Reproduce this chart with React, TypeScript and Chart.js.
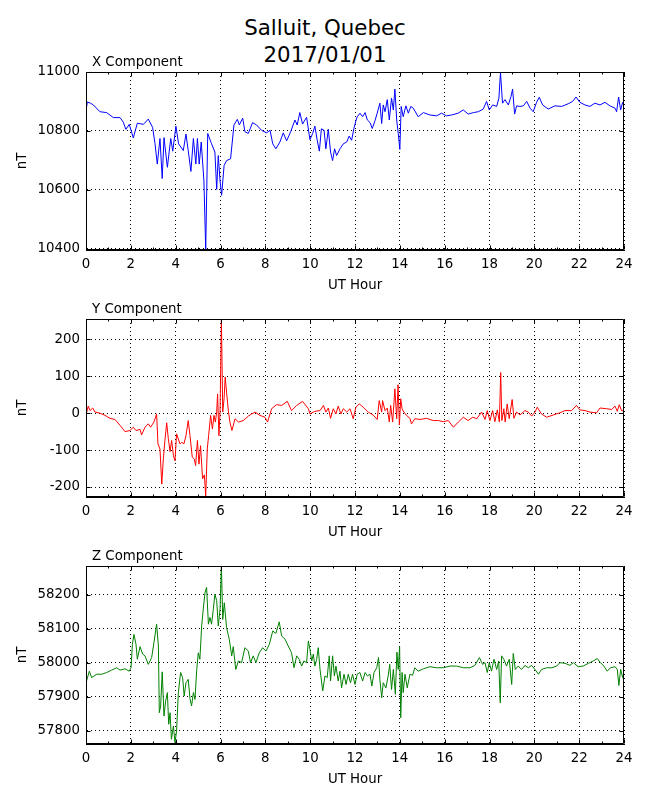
import React, { useEffect, useRef } from "react";
import { Chart, registerables } from "chart.js";

Chart.register(...registerables);

// ---------- data ----------
const hourTicks = [0, 2, 4, 6, 8, 10, 12, 14, 16, 18, 20, 22, 24];
const minorHourTicks = [1, 3, 5, 7, 9, 11, 13, 15, 17, 19, 21, 23];

const xCompTicks = [10400, 10600, 10800, 11000];
const yCompTicks = [-200, -100, 0, 100, 200];
const zCompTicks = [57800, 57900, 58000, 58100, 58200];

const xCompRange = [10395, 11000];
const yCompRange = [-227, 255];
const zCompRange = [57761, 58284];

const xHours = [
  0, 0.06, 0.2, 0.33, 0.62, 0.92, 1.22, 1.52, 1.66, 1.78,
  1.93, 2.11, 2.29, 2.56, 2.78, 2.97, 3.08, 3.18, 3.3, 3.4,
  3.48, 3.63, 3.78, 3.87, 4.01, 4.13, 4.34, 4.46, 4.56, 4.68,
  4.79, 4.9, 4.97, 5.05, 5.14, 5.26, 5.34, 5.43, 5.6, 5.75,
  5.83, 5.9, 5.98, 6.05, 6.16, 6.27, 6.45, 6.6, 6.75, 6.84,
  6.99, 7.09, 7.24, 7.43, 7.61, 7.83, 8.06, 8.21, 8.33, 8.47,
  8.65, 8.8, 8.95, 9.13, 9.32, 9.42, 9.54, 9.66, 9.84, 9.99,
  10.11, 10.21, 10.32, 10.41, 10.5, 10.62, 10.7, 10.81, 10.91, 11.0,
  11.09, 11.18, 11.33, 11.48, 11.63, 11.74, 11.85, 11.95, 12.04, 12.1,
  12.22, 12.34, 12.45, 12.55, 12.67, 12.77, 12.89, 12.99, 13.11, 13.19,
  13.26, 13.34, 13.44, 13.53, 13.63, 13.71, 13.78, 13.86, 13.93, 14.0,
  14.06, 14.15, 14.27, 14.38, 14.49, 14.6, 14.82, 15.05, 15.34, 15.64,
  15.86, 16.08, 16.31, 16.6, 16.83, 17.05, 17.28, 17.5, 17.72, 17.87,
  17.99, 18.14, 18.32, 18.42, 18.49, 18.58, 18.69, 18.84, 18.96, 19.03,
  19.12, 19.21, 19.36, 19.51, 19.66, 19.81, 19.95, 20.1, 20.22, 20.37,
  20.62, 20.92, 21.22, 21.51, 21.71, 21.86, 22.03, 22.26, 22.48, 22.7,
  22.93, 23.15, 23.37, 23.6, 23.67, 23.76, 23.85, 23.94, 24,
];
const xValues = [
  10868, 10898, 10894, 10888, 10865, 10862, 10845, 10845, 10830, 10805,
  10822, 10776, 10826, 10822, 10840, 10812, 10756, 10687, 10774, 10638,
  10777, 10676, 10774, 10731, 10816, 10756, 10733, 10789, 10733, 10662,
  10774, 10687, 10774, 10687, 10762, 10630, 10397, 10791, 10756, 10728,
  10601, 10716, 10630, 10581, 10682, 10699, 10705, 10820, 10839, 10820,
  10843, 10797, 10791, 10828, 10820, 10802, 10793, 10802, 10756, 10739,
  10762, 10793, 10766, 10797, 10837, 10820, 10862, 10823, 10846, 10770,
  10791, 10816, 10766, 10731, 10807, 10802, 10739, 10805, 10728, 10699,
  10739, 10716, 10739, 10756, 10762, 10782, 10768, 10808, 10834, 10848,
  10860, 10848, 10862, 10837, 10828, 10808, 10834, 10860, 10894, 10825,
  10888, 10865, 10906, 10837, 10911, 10871, 10942, 10837, 10791, 10737,
  10883, 10848, 10885, 10860, 10883, 10877, 10848, 10862, 10854, 10851,
  10860, 10851, 10854, 10860, 10871, 10857, 10862, 10865, 10874, 10900,
  10871, 10888, 10883, 10911, 10999, 10894, 10906, 10888, 10917, 10942,
  10857, 10885, 10883, 10885, 10900, 10877, 10865, 10897, 10914, 10888,
  10874, 10885, 10883, 10892, 10900, 10915, 10897, 10888, 10883, 10894,
  10888, 10897, 10885, 10877, 10865, 10915, 10871, 10897, 10888,
];

const yHours = [
  0, 0.1, 0.18, 0.3, 0.4, 0.62, 0.85, 1.07, 1.29, 1.52,
  1.74, 1.96, 2.11, 2.23, 2.41, 2.48, 2.63, 2.78, 2.88, 3.03,
  3.15, 3.21, 3.3, 3.38, 3.45, 3.52, 3.6, 3.67, 3.75, 3.82,
  3.9, 3.97, 4.04, 4.12, 4.19, 4.27, 4.37, 4.46, 4.56, 4.64,
  4.74, 4.83, 4.89, 4.97, 5.04, 5.11, 5.2, 5.28, 5.34, 5.41,
  5.47, 5.56, 5.64, 5.71, 5.77, 5.83, 5.87, 5.93, 5.98, 6.04,
  6.1, 6.16, 6.21, 6.27, 6.35, 6.42, 6.51, 6.65, 6.8, 7.02,
  7.24, 7.39, 7.54, 7.76, 7.98, 8.1, 8.28, 8.5, 8.73, 8.98,
  9.17, 9.4, 9.66, 9.92, 9.99, 10.21, 10.44, 10.59, 10.7, 10.81,
  10.91, 11.03, 11.15, 11.25, 11.37, 11.48, 11.63, 11.78, 11.92, 12.04,
  12.19, 12.37, 12.59, 12.81, 12.99, 13.08, 13.19, 13.23, 13.34, 13.44,
  13.53, 13.59, 13.68, 13.78, 13.86, 13.92, 13.98, 14.04, 14.1, 14.18,
  14.3, 14.45, 14.52, 14.67, 14.9, 15.19, 15.49, 15.72, 15.94, 16.16,
  16.39, 16.61, 16.83, 17.05, 17.25, 17.43, 17.65, 17.8, 17.9, 18.02,
  18.14, 18.24, 18.35, 18.44, 18.5, 18.55, 18.64, 18.7, 18.79, 18.88,
  19.01, 19.09, 19.21, 19.36, 19.58, 19.73, 19.88, 20.03, 20.13, 20.32,
  20.55, 20.84, 21.14, 21.37, 21.66, 21.88, 22.03, 22.26, 22.48, 22.78,
  22.93, 23.22, 23.45, 23.6, 23.7, 23.79, 23.89, 24,
];
const yValues = [
  -5, 19, 7, 14, 3, 0, -6, -14, -17, -33,
  -50, -47, -38, -47, -44, -59, -38, -29, -38, -24,
  -2, -83, -97, -192, -124, -74, -26, -68, -104, -74,
  -115, -129, -56, -70, -83, -79, -83, -61, -20, -61,
  -119, -124, -142, -74, -138, -88, -178, -167, -225, -97,
  -61, -6, -43, -6, -24, 3, 52, -61, 3, 252,
  3, 39, 98, 57, 7, -24, -47, -15, -24, -20,
  -8, -2, 3, -6, -11, -24, 12, 23, 21, 32,
  7, 21, 32, 12, -2, 5, 7, 21, 3, 14,
  -14, 12, -2, 19, -2, 12, 3, 12, -15, 16,
  25, 16, 3, -5, -17, 34, 3, 34, 7, 14,
  -24, 21, -24, 66, -15, 77, -32, 39, 12, 3,
  -6, -14, -29, -15, -17, -14, -20, -20, -23, -20,
  -38, -24, -11, -20, -11, -15, 3, -17, 7, -20,
  7, -23, 9, -24, 110, -20, 12, -24, 25, -15,
  37, -14, 3, -5, 7, 3, -8, 3, 16, -2,
  -11, -5, 1, 7, 7, 21, 9, 7, 3, 1,
  14, 12, 10, 19, 5, 23, 7, 6,
];

const zHours = [
  0, 0.15, 0.25, 0.48, 0.7, 0.92, 1.14, 1.37, 1.52, 1.74,
  1.93, 2.01, 2.07, 2.14, 2.23, 2.29, 2.41, 2.53, 2.63, 2.78,
  2.93, 3.03, 3.15, 3.23, 3.27, 3.33, 3.4, 3.48, 3.55, 3.63,
  3.69, 3.75, 3.81, 3.9, 3.97, 4.04, 4.12, 4.22, 4.31, 4.38,
  4.46, 4.56, 4.64, 4.71, 4.79, 4.86, 4.94, 5.01, 5.08, 5.16,
  5.23, 5.31, 5.38, 5.46, 5.53, 5.6, 5.68, 5.75, 5.83, 5.9,
  5.98, 6.04, 6.1, 6.17, 6.27, 6.39, 6.5, 6.57, 6.68, 6.8,
  6.94, 7.09, 7.24, 7.34, 7.46, 7.58, 7.73, 7.88, 8.03, 8.18,
  8.33, 8.47, 8.62, 8.73, 8.88, 9.02, 9.17, 9.28, 9.4, 9.51,
  9.62, 9.72, 9.84, 9.92, 9.99, 10.07, 10.14, 10.21, 10.29, 10.36,
  10.44, 10.56, 10.66, 10.76, 10.85, 10.91, 11.0, 11.08, 11.15, 11.25,
  11.33, 11.4, 11.51, 11.6, 11.7, 11.8, 11.89, 12.0, 12.1, 12.22,
  12.34, 12.45, 12.55, 12.67, 12.75, 12.85, 12.97, 13.05, 13.11, 13.19,
  13.26, 13.38, 13.48, 13.55, 13.63, 13.71, 13.8, 13.87, 13.93, 13.99,
  14.04, 14.1, 14.15, 14.23, 14.33, 14.45, 14.57, 14.67, 14.82, 15.05,
  15.34, 15.64, 15.94, 16.24, 16.53, 16.83, 17.13, 17.35, 17.55, 17.69,
  17.8, 17.9, 17.99, 18.09, 18.2, 18.32, 18.41, 18.48, 18.54, 18.64,
  18.76, 18.88, 18.99, 19.06, 19.15, 19.28, 19.43, 19.58, 19.73, 19.88,
  20.03, 20.18, 20.32, 20.55, 20.77, 21.0, 21.14, 21.37, 21.59, 21.74,
  21.96, 22.18, 22.41, 22.63, 22.81, 22.95, 23.1, 23.25, 23.4, 23.6,
  23.7, 23.77, 23.85, 23.94, 24,
];
const zValues = [
  57941, 57975, 57956, 57966, 57966, 57971, 57978, 57985, 57978, 57982,
  57975, 57985, 58054, 58083, 58054, 58010, 58047, 58025, 58020, 57995,
  58015, 58059, 58113, 58049, 57853, 57873, 57973, 57843, 57887, 57912,
  57819, 57853, 57775, 57814, 57765, 57799, 57912, 57971, 57956, 57902,
  57941, 57951, 57894, 57873, 57912, 57892, 57980, 58029, 58010, 58108,
  58157, 58206, 58221, 58113, 58133, 58113, 58157, 58201, 58182, 58108,
  58157, 58282, 58127, 58176, 58103, 58069, 58020, 58047, 57980, 58005,
  58000, 58044, 58034, 58000, 58020, 58000, 58029, 58044, 58034, 58054,
  58093, 58086, 58120, 58078, 58069, 58049, 58029, 57985, 58020, 58010,
  57990, 58005, 58000, 58064, 58039, 58005, 58025, 57990, 58010, 58044,
  57980, 57917, 57961, 57956, 58020, 57946, 58020, 57961, 57990, 57946,
  57975, 57926, 57966, 57936, 57966, 57941, 57966, 57936, 57966, 57971,
  57946, 57971, 57961, 57966, 57931, 57971, 57985, 58015, 57951, 57897,
  57941, 57926, 57961, 57995, 57921, 57980, 57907, 58031, 57980, 58047,
  57838, 57971, 57912, 57966, 57926, 57966, 57963, 57985, 57975, 57982,
  57988, 57985, 57985, 57990, 57990, 57985, 57985, 57992, 58015, 57995,
  58000, 57971, 58000, 57975, 58010, 57980, 58005, 57882, 58020, 58010,
  57990, 58010, 57936, 58027, 57980, 57990, 57980, 57992, 57985, 57992,
  57980, 57966, 57980, 57985, 57985, 57990, 58000, 57998, 57992, 58000,
  57988, 57990, 57998, 58005, 58012, 58000, 57990, 57975, 57985, 57988,
  57980, 57933, 57980, 57956, 57975,
];

const panelTitles = ["X Component", "Y Component", "Z Component"];
const figureTitle = ["Salluit, Quebec", "2017/01/01"];
const xAxisLabel = "UT Hour";
const yAxisLabel = "nT";

// ---------- style / layout ----------
const FONT_FAMILY = "'DejaVu Sans', 'Liberation Sans', sans-serif";
const FONT_SIZE = 13.33;
const PLOT_LEFT = 86;
const PLOT_RIGHT = 624;
const PLOT_HEIGHT = 178;
const TOP_SPACE = 40;
const X_AXIS_HEIGHT = 45;
const CANVAS_H = 266;

const mplFrame = {
  id: "mplFrame",
  afterDraw(chart: any, _args: any, opts: any) {
    const { ctx, chartArea } = chart;
    const { left, right, top, bottom } = chartArea;
    const xs = chart.scales.x;
    const ys = chart.scales.y;
    ctx.save();
    ctx.strokeStyle = "#000";
    ctx.lineWidth = 1;
    ctx.setLineDash([]);
    const L = Math.round(left) + 0.5;
    const R = Math.round(right) - 0.5;
    const T = Math.round(top) + 0.5;
    const B = Math.round(bottom) - 0.5;
    ctx.beginPath();
    ctx.rect(L, T, R - L, B - T);
    ctx.stroke();
    ctx.beginPath();
    const drawX = (v: number, len: number) => {
      const px = Math.round(xs.getPixelForValue(v)) + 0.5;
      ctx.moveTo(px, B);
      ctx.lineTo(px, B - len);
      ctx.moveTo(px, T);
      ctx.lineTo(px, T + len);
    };
    (opts.major || []).forEach((v: number) => drawX(v, 4));
    (opts.minor || []).forEach((v: number) => drawX(v, 2));
    (opts.yTicks || []).forEach((v: number) => {
      const py = Math.round(ys.getPixelForValue(v)) + 0.5;
      ctx.moveTo(L, py);
      ctx.lineTo(L + 4, py);
      ctx.moveTo(R, py);
      ctx.lineTo(R - 4, py);
    });
    ctx.stroke();
    if (opts.title) {
      ctx.fillStyle = "#000";
      ctx.font = `${FONT_SIZE}px ${FONT_FAMILY}`;
      ctx.textAlign = "left";
      ctx.textBaseline = "alphabetic";
      ctx.fillText(opts.title, left + 6, top - 6);
    }
    ctx.restore();
  },
};

type PanelProps = {
  hours: number[];
  values: number[];
  color: string;
  range: number[];
  ticks: number[];
  title: string;
  plotTop: number;
};

function Panel({ hours, values, color, range, ticks, title, plotTop }: PanelProps) {
  const ref = useRef<HTMLCanvasElement>(null);
  useEffect(() => {
    const font = { family: FONT_FAMILY, size: FONT_SIZE };
    const chart = new Chart(ref.current as HTMLCanvasElement, {
      type: "line",
      data: {
        datasets: [
          {
            data: hours.map((h, i) => ({ x: h, y: values[i] })),
            borderColor: color,
            borderWidth: 1,
            pointRadius: 0,
            tension: 0,
            fill: false,
          },
        ],
      },
      options: {
        animation: false,
        responsive: false,
        events: [],
        layout: {
          padding: {
            top: TOP_SPACE,
            left: 0,
            right: 650 - PLOT_RIGHT,
            bottom: CANVAS_H - TOP_SPACE - PLOT_HEIGHT - X_AXIS_HEIGHT,
          },
        },
        plugins: {
          legend: { display: false },
          title: { display: false },
          tooltip: { enabled: false },
          mplFrame: { title, major: hourTicks, minor: minorHourTicks, yTicks: ticks },
        } as any,
        scales: {
          x: {
            type: "linear",
            min: 0,
            max: 24,
            bounds: "data",
            afterBuildTicks: (s: any) => {
              s.ticks = hourTicks.map((v) => ({ value: v }));
            },
            afterFit: (s: any) => {
              s.height = X_AXIS_HEIGHT;
            },
            ticks: {
              font,
              color: "#000",
              padding: 7,
              maxRotation: 0,
              autoSkip: false,
              callback: (v: any) => String(v),
            },
            grid: { color: "#000", lineWidth: 1, drawTicks: false },
            border: { display: true, color: "#000", width: 1, dash: [1, 3] },
            title: {
              display: true,
              text: xAxisLabel,
              font,
              color: "#000",
              padding: { top: 0, bottom: 1 },
            },
          },
          y: {
            type: "linear",
            min: range[0],
            max: range[1],
            bounds: "data",
            afterBuildTicks: (s: any) => {
              s.ticks = ticks.map((v) => ({ value: v }));
            },
            afterFit: (s: any) => {
              s.width = PLOT_LEFT;
            },
            ticks: {
              font,
              color: "#000",
              padding: 6,
              autoSkip: false,
              callback: (v: any) => String(v),
            },
            grid: { color: "#000", lineWidth: 1, drawTicks: false },
            border: { display: true, color: "#000", width: 1, dash: [1, 3] },
            title: {
              display: true,
              text: yAxisLabel,
              font,
              color: "#000",
              padding: { top: 15, bottom: 0 },
            },
          },
        } as any,
      },
      plugins: [mplFrame],
    } as any);
    return () => chart.destroy();
  }, []);
  return (
    <canvas
      ref={ref}
      width={650}
      height={CANVAS_H}
      style={{
        position: "absolute",
        left: 0,
        top: plotTop - TOP_SPACE,
        width: 650,
        height: CANVAS_H,
      }}
    />
  );
}

export default function App() {
  return (
    <div
      style={{
        position: "absolute",
        left: 0,
        top: 0,
        width: 650,
        height: 800,
        background: "#fff",
        overflow: "hidden",
      }}
    >
      <div
        style={{
          position: "absolute",
          left: 0,
          top: 13.5,
          width: 650,
          textAlign: "center",
          fontFamily: FONT_FAMILY,
          fontSize: 21.33,
          lineHeight: "27px",
          color: "#000",
        }}
      >
        {figureTitle[0]}
        <br />
        {figureTitle[1]}
      </div>
      <Panel hours={xHours} values={xValues} color="#0000ff" range={xCompRange} ticks={xCompTicks} title={panelTitles[0]} plotTop={72} />
      <Panel hours={yHours} values={yValues} color="#ff0000" range={yCompRange} ticks={yCompTicks} title={panelTitles[1]} plotTop={319} />
      <Panel hours={zHours} values={zValues} color="#008000" range={zCompRange} ticks={zCompTicks} title={panelTitles[2]} plotTop={566} />
    </div>
  );
}
